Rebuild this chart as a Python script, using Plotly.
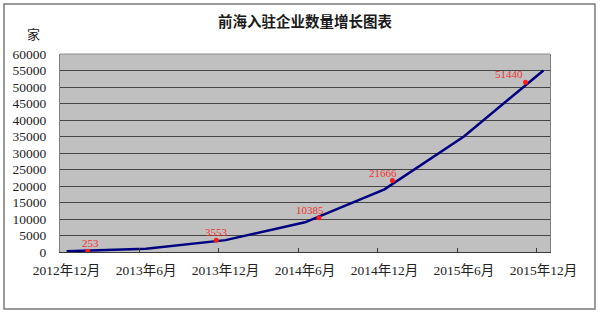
import plotly.graph_objects as go

# ---- data ----
tick_labels = ["2012年12月", "2013年6月", "2013年12月", "2014年6月",
               "2014年12月", "2015年6月", "2015年12月"]
tick_months = [0, 6, 12, 18, 24, 30, 36]          # months since 2012-12
line_values = [200, 1000, 3600, 9000, 19000, 35000, 55000]
label_months = [1.6, 11.3, 19.05, 24.6, 34.65]
label_values = [253, 3553, 10385, 21666, 51440]
y_ticks = list(range(0, 60001, 5000))

# label offsets (style only)
label_dx = [3, 0, -9, -9, -17]

serif = "Liberation Serif, Noto Sans CJK SC, serif"
boundaries = [m - 0.5 for m in tick_months[1:]]

fig = go.Figure()
fig.add_trace(go.Scatter(
    x=tick_months, y=line_values, mode="lines",
    line=dict(color="#000080", width=2.5), hoverinfo="skip", xaxis="x", yaxis="y"))
fig.add_trace(go.Scatter(
    x=label_months, y=label_values, mode="markers",
    marker=dict(color="#ff1a1a", size=5), hoverinfo="skip", xaxis="x2", yaxis="y"))

for m, v, dx in zip(label_months, label_values, label_dx):
    fig.add_annotation(x=m, y=v, xref="x", yref="y", text=str(v), showarrow=False,
                       xanchor="center", yanchor="middle", xshift=dx, yshift=8,
                       font=dict(family=serif, size=11, color="#ee3333"))

fig.add_annotation(x=-0.055, y=1.106, xref="paper", yref="paper", text="家",
                   showarrow=False, xanchor="center", yanchor="middle",
                   font=dict(family="Noto Sans CJK SC", size=13, color="#222"))

# outer frame
fig.add_shape(type="rect", xref="paper", yref="paper",
              x0=-0.1143, x1=1.0918, y0=-0.2879, y1=1.2525,
              line=dict(color="#7a7a7a", width=1.5), layer="above")
# top border of plot area
fig.add_shape(type="line", xref="paper", yref="paper", x0=0, x1=1, y0=1, y1=1,
              line=dict(color="#8a8a8a", width=1), layer="above")

fig.update_layout(
    width=600, height=315,
    margin=dict(l=60, r=50, t=54, b=63),
    paper_bgcolor="white", plot_bgcolor="#c0c0c0",
    showlegend=False,
    title=dict(text="<b>前海入驻企业数量增长图表</b>", x=0.5, xref="paper", xanchor="center",
               y=1 - 21.7 / 315, yanchor="middle",
               font=dict(family="Noto Sans CJK SC", size=14.5, color="#1a1a1a")),
    xaxis=dict(range=[-0.5, 36.5], tickvals=tick_months, ticktext=tick_labels,
               ticks="", showgrid=False, zeroline=False,
               showline=True, linecolor="#3a3a3a", linewidth=1,
               tickfont=dict(family=serif, size=13.5, color="#222"),
               ticklabelstandoff=6, fixedrange=True),
    xaxis2=dict(range=[-0.5, 36.5], overlaying="x", side="bottom",
                tickvals=boundaries, ticks="inside", ticklen=4, tickcolor="#3a3a3a",
                showticklabels=False, showgrid=False, zeroline=False, showline=False),
    yaxis=dict(range=[0, 60000], tickvals=y_ticks, ticktext=[str(v) for v in y_ticks],
               showgrid=True, gridcolor="#454545", gridwidth=1, zeroline=False,
               showline=True, linecolor="#808080", linewidth=1, mirror=True,
               ticks="", tickfont=dict(family=serif, size=13.5, color="#222"),
               ticklabelstandoff=10),
)

fig.write_html("out.html")
